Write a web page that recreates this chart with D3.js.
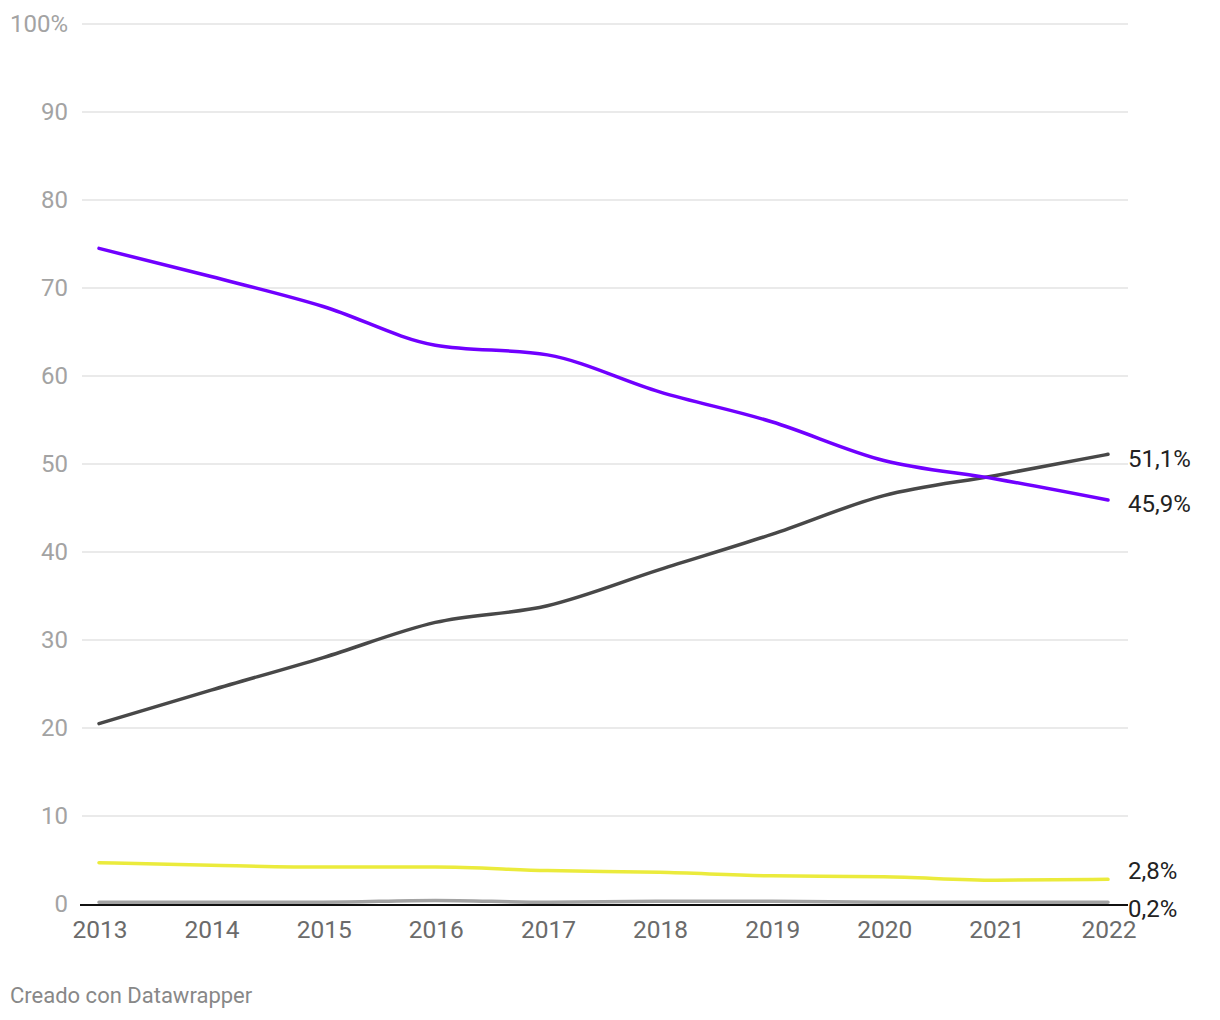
<!DOCTYPE html>
<html><head><meta charset="utf-8">
<script src="https://cdn.jsdelivr.net/npm/d3@7"></script>
<style>
body{margin:0;background:#fff;font-family:Roboto,"Noto Sans",sans-serif;}
</style></head>
<body><svg id="c" width="1220" height="1020"></svg>
<script>
const years = [2013,2014,2015,2016,2017,2018,2019,2020,2021,2022];
const purple = [74.5,71.3,67.9,63.5,62.4,58.2,54.8,50.4,48.3,45.9];
const darkgrey = [20.5,24.3,28.0,32.0,33.9,38.0,42.0,46.4,48.7,51.1];
const yellow = [4.7,4.4,4.2,4.2,3.8,3.6,3.2,3.1,2.7,2.8];
const lightgrey = [0.2,0.2,0.2,0.4,0.2,0.3,0.3,0.2,0.2,0.2];
const yTicks = [0,10,20,30,40,50,60,70,80,90,100];
const endLabels = ["51,1%","45,9%","2,8%","0,2%"];

const svg = d3.select("#c");
const x = d3.scaleLinear().domain([2013,2022]).range([99,1108]);
const y = d3.scaleLinear().domain([0,100]).range([904,24]);

// grid
svg.append("g").selectAll("line").data(yTicks.filter(d=>d>0)).join("line")
  .attr("x1",82).attr("x2",1128).attr("y1",d=>y(d)).attr("y2",d=>y(d))
  .attr("stroke","#e3e3e3").attr("stroke-width",1.3);
svg.append("g").selectAll("text").data(yTicks).join("text")
  .attr("x",68).attr("y",d=>y(d)).attr("dy","0.35em").attr("text-anchor","end")
  .attr("fill","#a3a3a3").attr("font-size",24)
  .text(d=>d===100?"100%":d);

// x labels
svg.append("g").selectAll("text").data(years).join("text")
  .attr("x",d=>x(d)+1).attr("y",938).attr("text-anchor","middle")
  .attr("fill","#6b6b6b").attr("font-size",24.5).text(d=>d);

const series = [
  {v:lightgrey,c:"#a3a3a3",w:3.5},
  {v:yellow,c:"#ebeb3c",w:3.5},
  {v:darkgrey,c:"#484848",w:3.5},
  {v:purple,c:"#7000ff",w:3.5}
];
const line = d3.line().x((d,i)=>x(years[i])).y(d=>y(d)).curve(d3.curveMonotoneX);
svg.append("g").selectAll("path").data(series).join("path")
  .attr("d",d=>line(d.v)).attr("fill","none").attr("stroke",d=>d.c)
  .attr("stroke-width",d=>d.w).attr("stroke-linecap","round");

// baseline
svg.append("line").attr("x1",80).attr("x2",1128).attr("y1",y(0)+1).attr("y2",y(0)+1)
  .attr("stroke","#111").attr("stroke-width",2);

// end labels
const lastVals = [darkgrey[9],purple[9],yellow[9],lightgrey[9]];
const labelY = [y(lastVals[0])+4, y(lastVals[1])+4, y(lastVals[2])-9, y(lastVals[3])+6];
svg.append("g").selectAll("text").data(endLabels).join("text")
  .attr("x",1128).attr("y",(d,i)=>labelY[i]).attr("dy","0.35em")
  .attr("fill","#222").attr("font-size",24).text(d=>d);

svg.append("text").attr("x",10).attr("y",1003).attr("fill","#888").attr("font-size",22)
  .text("Creado con Datawrapper");
</script></body></html>
